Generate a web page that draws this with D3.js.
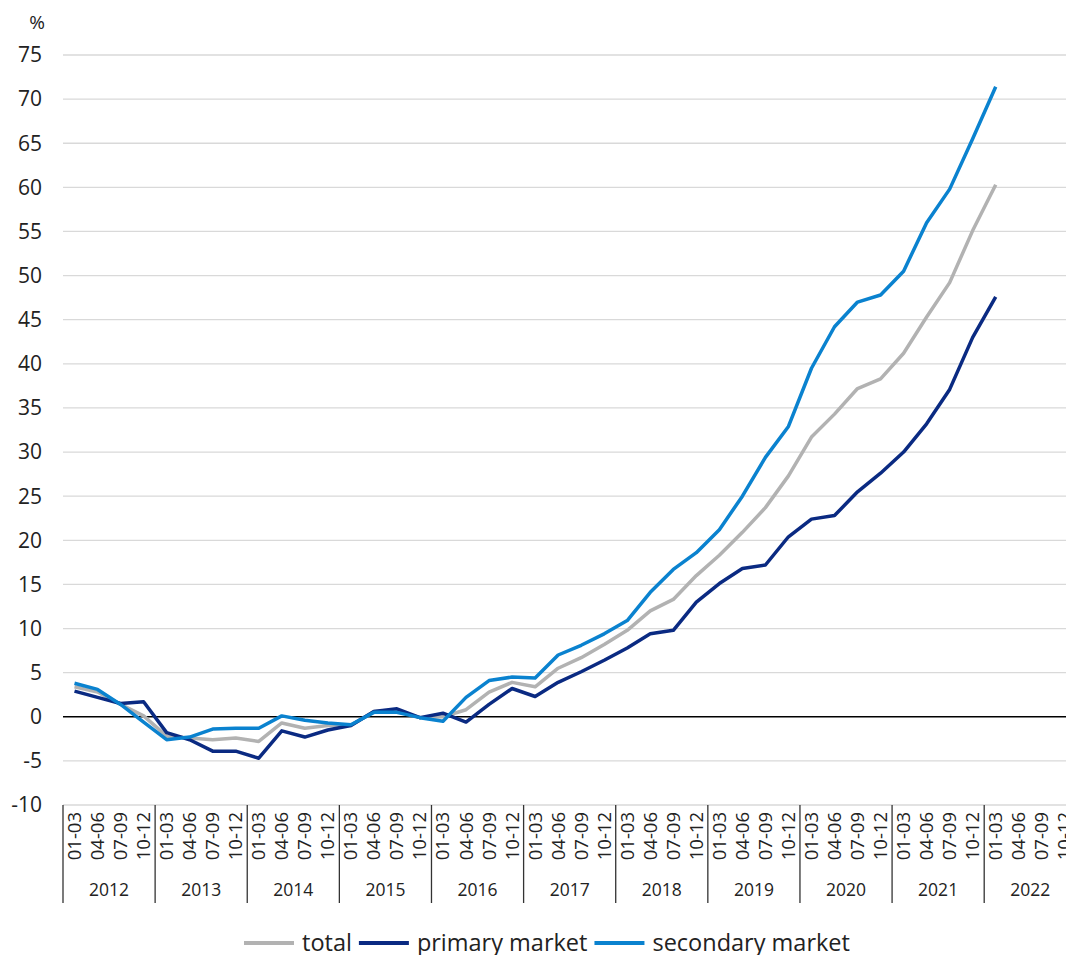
<!DOCTYPE html>
<html>
<head>
<meta charset="utf-8">
<script src="https://cdn.jsdelivr.net/npm/d3@7"></script>
<style>
  body { margin: 0; background: #fff; }
  svg { font-family: "Open Sans", sans-serif; }
  .grid line { stroke: #d9d9d9; stroke-width: 1.3px; }
  .line { fill: none; stroke-width: 3.5px; stroke-linejoin: round; }
</style>
</head>
<body>
<svg id="chart"></svg>
<script>
// data, quarterly change in %, 2012 Q1 .. 2022 Q1
var years = ["2012","2013","2014","2015","2016","2017","2018","2019","2020","2021","2022"]
var quarters = ["01-03","04-06","07-09","10-12"]
var yTicks = [-10,-5,0,5,10,15,20,25,30,35,40,45,50,55,60,65,70,75]

var total = [3.4, 2.8, 1.4, 0.1,  -2.2, -2.4, -2.6, -2.4,  -2.8, -0.7, -1.3, -1.0,
  -1.0, 0.6, 0.7, -0.1,  0.0, 0.8, 2.8, 3.9,  3.4, 5.5, 6.7, 8.2,
  9.8, 12.0, 13.3, 16.0,  18.3, 20.9, 23.7, 27.3,  31.7, 34.3, 37.2, 38.3,
  41.2, 45.3, 49.2, 55.1,  60.3]
var primary = [2.9, 2.2, 1.5, 1.7,  -1.8, -2.6, -3.9, -3.9,  -4.7, -1.6, -2.3, -1.5,
  -1.0, 0.6, 0.9, -0.1,  0.4, -0.6, 1.4, 3.2,  2.3, 3.9, 5.1, 6.4,
  7.8, 9.4, 9.8, 13.0,  15.1, 16.8, 17.2, 20.4,  22.4, 22.8, 25.5, 27.6,
  30.0, 33.2, 37.1, 43.0,  47.6]
var secondary = [3.8, 3.1, 1.4, -0.6,  -2.6, -2.3, -1.4, -1.3,  -1.3, 0.1, -0.4, -0.7,
  -0.9, 0.5, 0.5, -0.1,  -0.5, 2.2, 4.1, 4.5,  4.4, 7.0, 8.1, 9.4,
  10.9, 14.1, 16.7, 18.6,  21.2, 25.0, 29.4, 32.9,  39.5, 44.2, 47.0, 47.8,
  50.5, 56.0, 59.8, 65.5,  71.4]

var series = [
  { name: "total", values: total, color: "#b2b2b2" },
  { name: "primary market", values: primary, color: "#0a2a82" },
  { name: "secondary market", values: secondary, color: "#0a82cf" }
]

var width = 1066, height = 955
var margin = { left: 63, top: 55, bottom: 805 }

var svg = d3.select("#chart").attr("width", width).attr("height", height)

var nQ = years.length * quarters.length
var x = d3.scaleLinear().domain([0, nQ]).range([margin.left, margin.left + nQ * 23.03])
var y = d3.scaleLinear().domain([-10, 75]).range([margin.bottom, margin.top])

// gridlines
svg.append("g").attr("class", "grid")
  .selectAll("line").data(yTicks.filter(function(d) { return d !== 0 }))
  .enter().append("line")
  .attr("x1", margin.left).attr("x2", width)
  .attr("y1", function(d) { return y(d) }).attr("y2", function(d) { return y(d) })

// y labels
svg.append("g").selectAll("text").data(yTicks)
  .enter().append("text")
  .attr("x", 42).attr("y", function(d) { return y(d) })
  .attr("dy", "0.35em")
  .attr("text-anchor", "end")
  .style("font-size", "21px").style("fill", "#222")
  .text(function(d) { return d })

svg.append("text").attr("x", 37).attr("y", 22).attr("dy", "0.35em")
  .attr("text-anchor", "middle").style("font-size", "19px").style("fill", "#222")
  .text("%")

// zero line
svg.append("line")
  .attr("x1", margin.left).attr("x2", width)
  .attr("y1", y(0)).attr("y2", y(0))
  .attr("stroke", "#000").attr("stroke-width", 1.3)

// x axis: year separators, quarter labels, year labels
var xAxis = svg.append("g")
xAxis.selectAll("line.sep").data(d3.range(years.length + 1))
  .enter().append("line")
  .attr("x1", function(d) { return x(d * 4) }).attr("x2", function(d) { return x(d * 4) })
  .attr("y1", margin.bottom).attr("y2", 903)
  .attr("stroke", "#333").attr("stroke-width", 1.3)

var qData = []
years.forEach(function(yr, i) {
  quarters.forEach(function(q, j) { qData.push({ i: i * 4 + j, label: q }) })
})
xAxis.selectAll("text.q").data(qData)
  .enter().append("text")
  .attr("transform", function(d) { return "translate(" + x(d.i + 0.5) + ",812) rotate(-90)" })
  .attr("dy", "0.35em")
  .attr("text-anchor", "end")
  .style("font-size", "18.5px").style("fill", "#222")
  .text(function(d) { return d.label })

xAxis.selectAll("text.yr").data(years)
  .enter().append("text")
  .attr("x", function(d, i) { return x(i * 4 + 2) })
  .attr("y", 890).attr("dy", "0.35em")
  .attr("text-anchor", "middle")
  .style("font-size", "17.5px").style("fill", "#222")
  .text(function(d) { return d })

// lines
var line = d3.line()
  .x(function(d, i) { return x(i + 0.5) })
  .y(function(d) { return y(d) })

svg.selectAll("path.line").data(series)
  .enter().append("path")
  .attr("class", "line")
  .attr("stroke", function(d) { return d.color })
  .attr("d", function(d) { return line(d.values) })

// legend
var legend = svg.append("g").attr("transform", "translate(244,943)")
var lx = 0
series.forEach(function(s) {
  legend.append("line").attr("x1", lx).attr("x2", lx + 50)
    .attr("stroke", s.color).attr("stroke-width", 4)
  var t = legend.append("text").attr("x", lx + 58).attr("dy", "0.35em")
    .style("font-size", "23.5px").style("fill", "#222")
    .text(s.name)
  lx += 58 + t.node().getComputedTextLength() + 7
})
</script>
</body>
</html>
